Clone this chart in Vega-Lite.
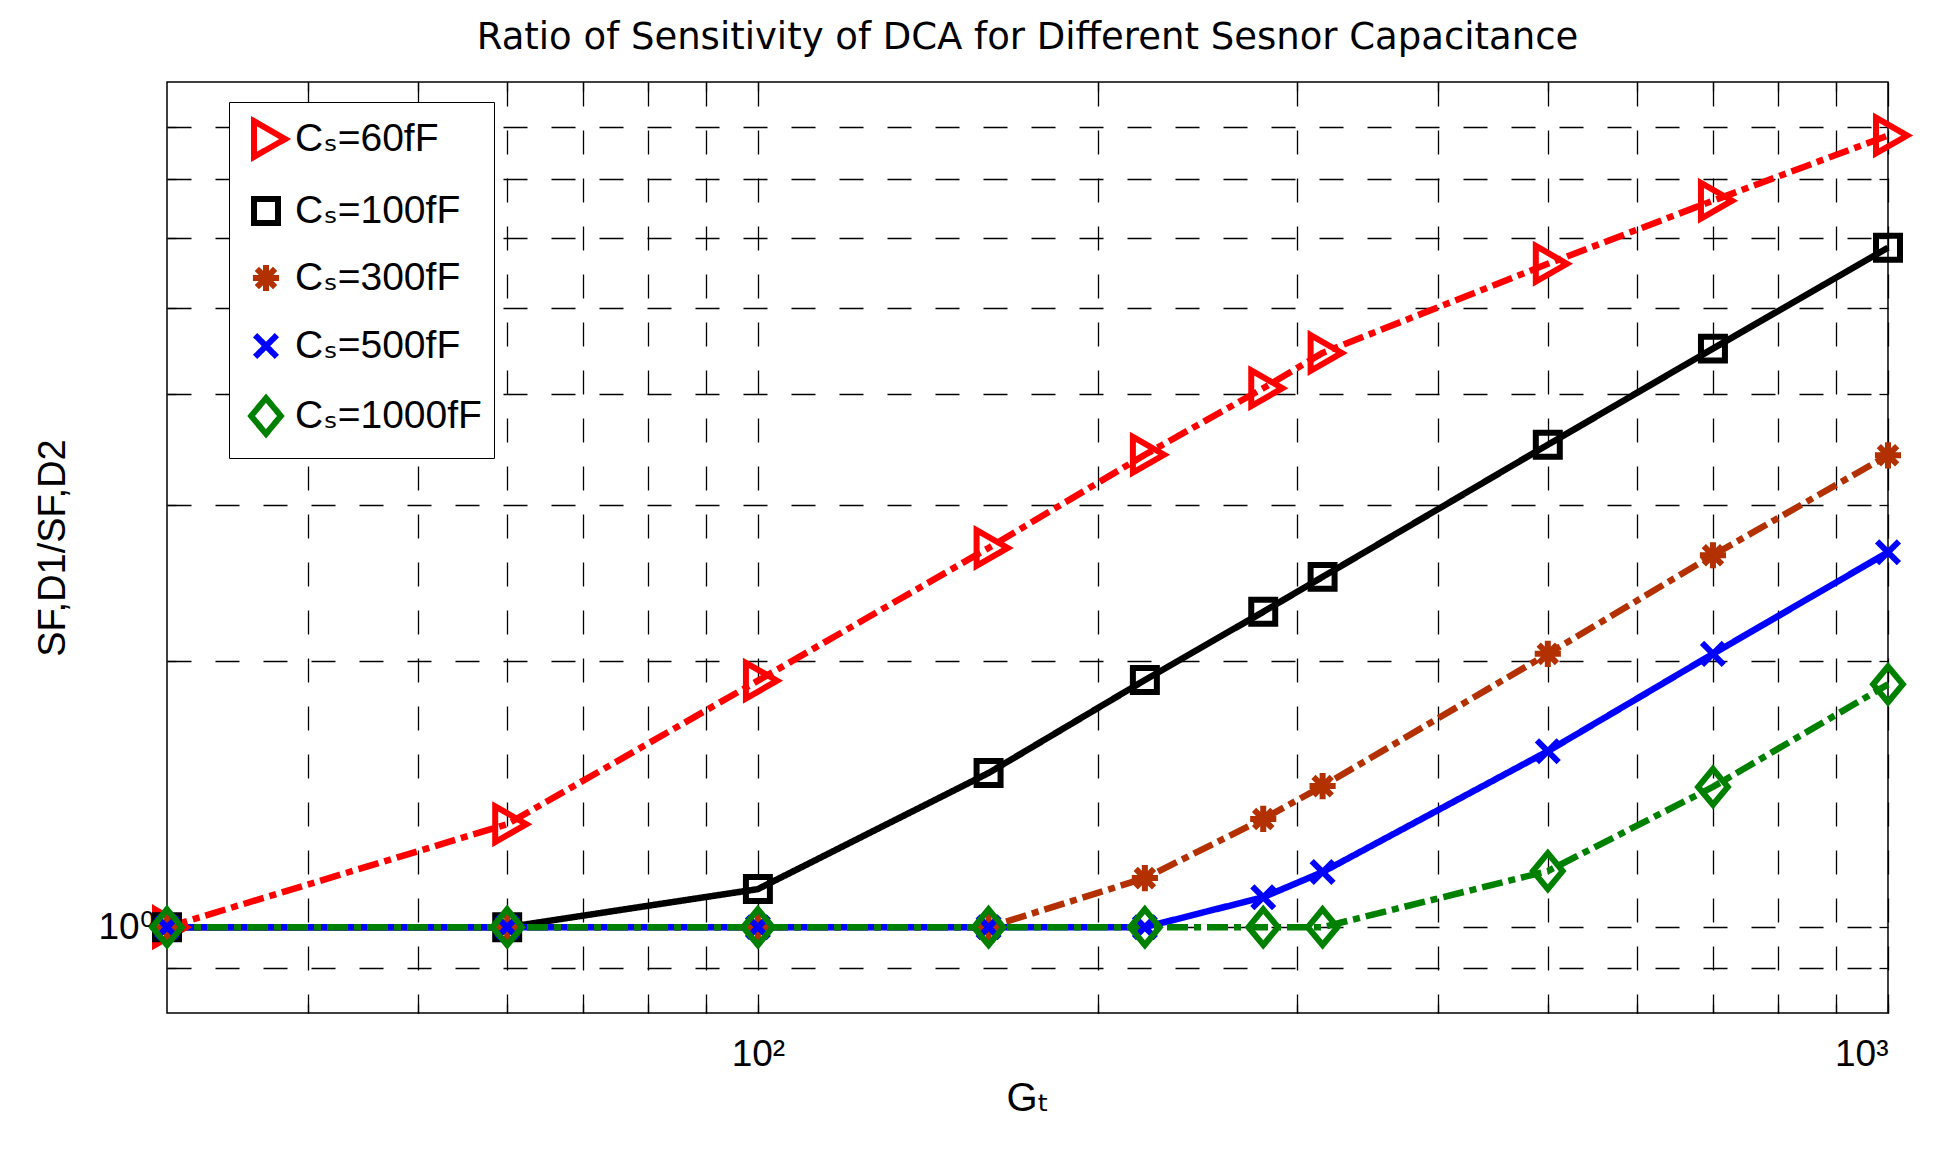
{
  "$schema": "https://vega.github.io/schema/vega-lite/v6.json",
  "width": 1721,
  "height": 931,
  "autosize": "none",
  "padding": {"left": 167, "top": 82, "right": 53, "bottom": 141},
  "background": "white",
  "title": {
    "text": "Ratio of Sensitivity of DCA for Different Sesnor Capacitance",
    "font": "DejaVu Sans",
    "fontSize": 37,
    "fontWeight": "normal",
    "color": "black",
    "anchor": "middle",
    "offset": 24
  },
  "data": {
    "values": [
      {"Gt": 30, "ratio": 1, "series": "Cₛ=60fF"},
      {"Gt": 60, "ratio": 1.307, "series": "Cₛ=60fF"},
      {"Gt": 100, "ratio": 1.898, "series": "Cₛ=60fF"},
      {"Gt": 160, "ratio": 2.68, "series": "Cₛ=60fF"},
      {"Gt": 220, "ratio": 3.415, "series": "Cₛ=60fF"},
      {"Gt": 280, "ratio": 4.06, "series": "Cₛ=60fF"},
      {"Gt": 316, "ratio": 4.45, "series": "Cₛ=60fF"},
      {"Gt": 500, "ratio": 5.61, "series": "Cₛ=60fF"},
      {"Gt": 700, "ratio": 6.61, "series": "Cₛ=60fF"},
      {"Gt": 1000, "ratio": 7.83, "series": "Cₛ=60fF"},
      {"Gt": 30, "ratio": 1, "series": "Cₛ=100fF"},
      {"Gt": 60, "ratio": 1, "series": "Cₛ=100fF"},
      {"Gt": 100, "ratio": 1.104, "series": "Cₛ=100fF"},
      {"Gt": 160, "ratio": 1.493, "series": "Cₛ=100fF"},
      {"Gt": 220, "ratio": 1.901, "series": "Cₛ=100fF"},
      {"Gt": 280, "ratio": 2.27, "series": "Cₛ=100fF"},
      {"Gt": 316, "ratio": 2.486, "series": "Cₛ=100fF"},
      {"Gt": 500, "ratio": 3.505, "series": "Cₛ=100fF"},
      {"Gt": 700, "ratio": 4.5, "series": "Cₛ=100fF"},
      {"Gt": 1000, "ratio": 5.85, "series": "Cₛ=100fF"},
      {"Gt": 30, "ratio": 1, "series": "Cₛ=300fF"},
      {"Gt": 60, "ratio": 1, "series": "Cₛ=300fF"},
      {"Gt": 100, "ratio": 1, "series": "Cₛ=300fF"},
      {"Gt": 160, "ratio": 1, "series": "Cₛ=300fF"},
      {"Gt": 220, "ratio": 1.136, "series": "Cₛ=300fF"},
      {"Gt": 280, "ratio": 1.325, "series": "Cₛ=300fF"},
      {"Gt": 316, "ratio": 1.443, "series": "Cₛ=300fF"},
      {"Gt": 500, "ratio": 2.035, "series": "Cₛ=300fF"},
      {"Gt": 700, "ratio": 2.63, "series": "Cₛ=300fF"},
      {"Gt": 1000, "ratio": 3.41, "series": "Cₛ=300fF"},
      {"Gt": 30, "ratio": 1, "series": "Cₛ=500fF"},
      {"Gt": 60, "ratio": 1, "series": "Cₛ=500fF"},
      {"Gt": 100, "ratio": 1, "series": "Cₛ=500fF"},
      {"Gt": 160, "ratio": 1, "series": "Cₛ=500fF"},
      {"Gt": 220, "ratio": 1, "series": "Cₛ=500fF"},
      {"Gt": 280, "ratio": 1.081, "series": "Cₛ=500fF"},
      {"Gt": 316, "ratio": 1.154, "series": "Cₛ=500fF"},
      {"Gt": 500, "ratio": 1.58, "series": "Cₛ=500fF"},
      {"Gt": 700, "ratio": 2.035, "series": "Cₛ=500fF"},
      {"Gt": 1000, "ratio": 2.65, "series": "Cₛ=500fF"},
      {"Gt": 30, "ratio": 1, "series": "Cₛ=1000fF"},
      {"Gt": 60, "ratio": 1, "series": "Cₛ=1000fF"},
      {"Gt": 100, "ratio": 1, "series": "Cₛ=1000fF"},
      {"Gt": 160, "ratio": 1, "series": "Cₛ=1000fF"},
      {"Gt": 220, "ratio": 1, "series": "Cₛ=1000fF"},
      {"Gt": 280, "ratio": 1, "series": "Cₛ=1000fF"},
      {"Gt": 316, "ratio": 1, "series": "Cₛ=1000fF"},
      {"Gt": 500, "ratio": 1.157, "series": "Cₛ=1000fF"},
      {"Gt": 700, "ratio": 1.44, "series": "Cₛ=1000fF"},
      {"Gt": 1000, "ratio": 1.88, "series": "Cₛ=1000fF"}
    ]
  },
  "encoding": {
    "x": {
      "field": "Gt",
      "type": "quantitative",
      "scale": {"type": "log", "domain": [30, 1000], "nice": false},
      "axis": {
        "orient": "bottom",
        "title": "Gₜ",
        "values": [40, 50, 60, 70, 80, 90, 100, 200, 300, 400, 500, 600, 700, 800, 900, 1000],
        "labelExpr": "datum.value == 100 ? '10²' : datum.value == 1000 ? '10³' : ''",
        "labelPadding": 32,
        "titlePadding": 6,
        "grid": true
      }
    },
    "y": {
      "field": "ratio",
      "type": "quantitative",
      "scale": {"type": "log", "domain": [0.8, 9], "nice": false},
      "axis": {
        "orient": "left",
        "title": "SF,D1/SF,D2",
        "titleFontSize": 38,
        "values": [0.9, 1, 2, 3, 4, 5, 6, 7, 8],
        "labelExpr": "datum.value == 1 ? '10⁰' : ''",
        "labelPadding": 22,
        "titlePadding": 26,
        "grid": true
      }
    },
    "color": {
      "field": "series",
      "type": "nominal",
      "scale": {
        "domain": ["Cₛ=60fF", "Cₛ=100fF", "Cₛ=300fF", "Cₛ=500fF", "Cₛ=1000fF"],
        "range": ["#ff0000", "#000000", "#b33000", "#0000ff", "#008000"]
      },
      "legend": {
        "title": null,
        "orient": "none",
        "legendX": 62,
        "legendY": 20
      }
    }
  },
  "layer": [
    {
      "mark": {"type": "line", "strokeWidth": 6.5, "strokeCap": "butt", "strokeJoin": "round"},
      "encoding": {
        "strokeDash": {
          "condition": {"test": "datum.series === 'Cₛ=100fF' || datum.series === 'Cₛ=500fF'", "value": [1, 0]},
          "value": [21, 6, 7, 6]
        }
      }
    },
    {
      "mark": {"type": "point", "filled": false, "strokeWidth": 6, "size": 1900, "opacity": 1, "strokeJoin": "miter"},
      "encoding": {
        "x": {
          "field": "Gt",
          "type": "quantitative",
          "axis": {
            "orient": "top",
            "title": null,
            "values": [40, 50, 60, 70, 80, 90, 100, 200, 300, 400, 500, 600, 700, 800, 900],
            "labels": false,
            "grid": false
          }
        },
        "y": {
          "field": "ratio",
          "type": "quantitative",
          "axis": {
            "orient": "right",
            "title": null,
            "values": [0.9, 1, 2, 3, 4, 5, 6, 7, 8],
            "labels": false,
            "grid": false
          }
        },
        "shape": {
          "field": "series",
          "type": "nominal",
          "scale": {
            "domain": ["Cₛ=60fF", "Cₛ=100fF", "Cₛ=300fF", "Cₛ=500fF", "Cₛ=1000fF"],
            "range": [
              "M-0.55,-0.82L0.88,0L-0.55,0.82Z",
              "M-0.55,-0.55H0.55V0.55H-0.55Z",
              "M-0.6,0H0.6M0,-0.6V0.6M-0.42,-0.42L0.42,0.42M-0.42,0.42L0.42,-0.42",
              "M-0.5,-0.5L0.5,0.5M-0.5,0.5L0.5,-0.5",
              "M0,-0.82L0.68,0L0,0.82L-0.68,0Z"
            ]
          },
          "legend": {
            "title": null,
            "orient": "none",
            "legendX": 62,
            "legendY": 20
          }
        }
      }
    }
  ],
  "config": {
    "view": {"stroke": "black", "strokeWidth": 1.5},
    "font": "Liberation Sans, DejaVu Sans",
    "axis": {
      "domain": false,
      "tickSize": -9,
      "tickColor": "black",
      "tickWidth": 1.3,
      "gridColor": "black",
      "gridWidth": 1.3,
      "gridDash": [24, 24],
      "gridOpacity": 1,
      "labelFont": "Liberation Sans, DejaVu Sans",
      "labelFontSize": 37,
      "labelColor": "black",
      "labelOverlap": false,
      "titleFont": "Liberation Sans, DejaVu Sans",
      "titleFontSize": 40,
      "titleFontWeight": "normal",
      "titleColor": "black"
    },
    "legend": {
      "labelFont": "Liberation Sans, DejaVu Sans",
      "labelFontSize": 39,
      "labelLimit": 500,
      "labelColor": "black",
      "labelOffset": 4,
      "symbolSize": 1900,
      "symbolStrokeWidth": 6,
      "symbolOffset": 0,
      "symbolDash": [1, 0],
      "symbolOpacity": 1,
      "rowPadding": 17,
      "padding": 12,
      "strokeColor": "black",
      "fillColor": "white",
      "cornerRadius": 0
    }
  }
}
